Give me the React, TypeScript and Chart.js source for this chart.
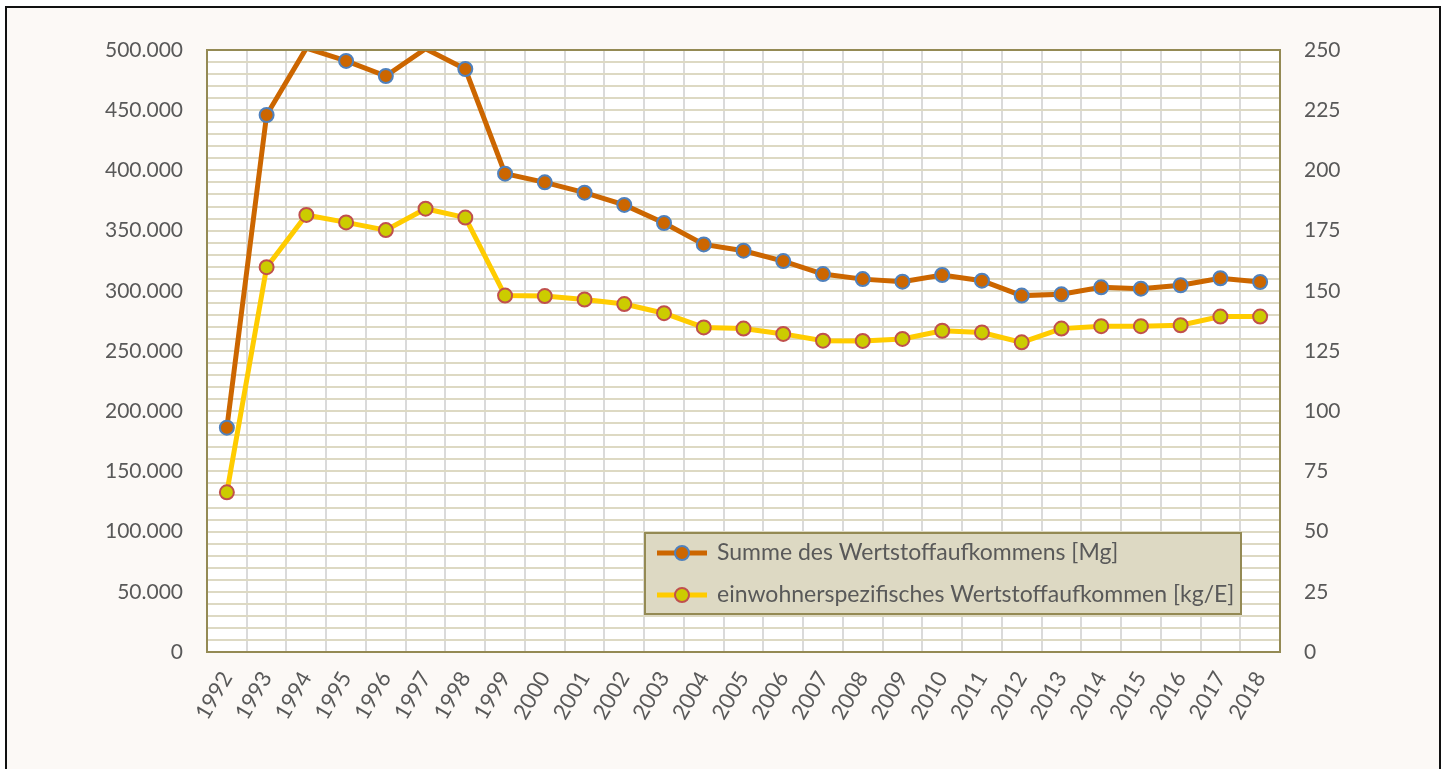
import React, { useEffect, useRef } from "react";
import { Chart, registerables } from "chart.js";

Chart.register(...registerables);

const years = [
  "1992", "1993", "1994", "1995", "1996", "1997", "1998", "1999", "2000",
  "2001", "2002", "2003", "2004", "2005", "2006", "2007", "2008", "2009",
  "2010", "2011", "2012", "2013", "2014", "2015", "2016", "2017", "2018",
];

const summeMg = [
  186300, 446000, 501500, 490900, 478400, 501000, 484200, 397300, 390100,
  381500, 371300, 356300, 338500, 333300, 324700, 313900, 309700, 307600,
  313100, 308400, 296000, 297100, 302900, 301800, 304600, 310400, 307300,
];

const kgProE = [
  66.3, 159.8, 181.5, 178.4, 175.2, 184.1, 180.4, 148.0, 147.8,
  146.4, 144.5, 140.7, 134.8, 134.3, 132.1, 129.3, 129.2, 130.0,
  133.4, 132.7, 128.6, 134.3, 135.3, 135.3, 135.7, 139.3, 139.3,
];

const seriesLabels = [
  "Summe des Wertstoffaufkommens [Mg]",
  "einwohnerspezifisches Wertstoffaufkommen [kg/E]",
];

const LEFT_MAX = 500000;
const RIGHT_MAX = 250;

const FONT = "Lato";
const TEXT = "#595959";

function fmtDE(v: number): string {
  const s = Math.round(v).toString();
  return s.replace(/\B(?=(\d{3})+(?!\d))/g, ".");
}

const topClipPlugin = {
  id: "topClip",
  beforeDatasetsDraw(chart: any) {
    const { ctx, chartArea: a } = chart;
    ctx.save();
    ctx.beginPath();
    ctx.rect(a.left - 30, a.top, a.right - a.left + 60, a.bottom - a.top + 30);
    ctx.clip();
  },
  afterDatasetsDraw(chart: any) {
    chart.ctx.restore();
  },
};

const plotFramePlugin = {
  id: "plotFrame",
  beforeDraw(chart: any) {
    const { ctx, chartArea: a } = chart;
    ctx.save();
    ctx.fillStyle = "#ffffff";
    ctx.fillRect(a.left, a.top, a.right - a.left, a.bottom - a.top);
    ctx.restore();
  },
  afterDraw(chart: any) {
    const { ctx, chartArea: a } = chart;
    ctx.save();
    ctx.strokeStyle = "#948a54";
    ctx.lineWidth = 2;
    ctx.strokeRect(a.left, a.top, a.right - a.left, a.bottom - a.top);
    ctx.restore();
  },
};

const legendPlugin = {
  id: "boxLegend",
  afterDraw(chart: any) {
    const { ctx } = chart;
    const x = 638, y = 525, w = 596, h = 81;
    ctx.save();
    ctx.fillStyle = "#ddd9c3";
    ctx.fillRect(x, y, w, h);
    ctx.strokeStyle = "#948a54";
    ctx.lineWidth = 2;
    ctx.strokeRect(x, y, w, h);
    const items = [
      { line: "#cc6600", fill: "#cc6600", border: "#4f81bd", cy: y + 20 },
      { line: "#ffcc00", fill: "#cccc00", border: "#c0504d", cy: y + 62 },
    ];
    items.forEach((it, i) => {
      ctx.strokeStyle = it.line;
      ctx.lineWidth = 5;
      ctx.beginPath();
      ctx.moveTo(x + 12, it.cy);
      ctx.lineTo(x + 62, it.cy);
      ctx.stroke();
      ctx.beginPath();
      ctx.arc(x + 37, it.cy, 7, 0, Math.PI * 2);
      ctx.fillStyle = it.fill;
      ctx.fill();
      ctx.lineWidth = 2;
      ctx.strokeStyle = it.border;
      ctx.stroke();
      ctx.fillStyle = TEXT;
      ctx.font = `23px ${FONT}`;
      ctx.textBaseline = "middle";
      ctx.textAlign = "left";
      ctx.fillText(seriesLabels[i], x + 72, it.cy);
    });
    ctx.restore();
  },
};

export default function App() {
  const ref = useRef<HTMLCanvasElement | null>(null);

  useEffect(() => {
    if (!ref.current) return;
    const clipArea = { left: 20, top: 0, right: 20, bottom: 20 };
    const chart = new Chart(ref.current, {
      type: "line",
      data: {
        labels: years,
        datasets: [
          {
            label: seriesLabels[0],
            data: summeMg,
            yAxisID: "y",
            borderColor: "#cc6600",
            backgroundColor: "#cc6600",
            borderWidth: 5,
            pointRadius: (c: any) => (c.raw > LEFT_MAX ? 0 : 7),
            pointBorderWidth: 2,
            pointBackgroundColor: "#cc6600",
            pointBorderColor: "#4f81bd",
            tension: 0,
            clip: clipArea,
          },
          {
            label: seriesLabels[1],
            data: kgProE,
            yAxisID: "y1",
            borderColor: "#ffcc00",
            backgroundColor: "#ffcc00",
            borderWidth: 5,
            pointRadius: (c: any) => (c.raw > RIGHT_MAX ? 0 : 7),
            pointBorderWidth: 2,
            pointBackgroundColor: "#cccc00",
            pointBorderColor: "#c0504d",
            tension: 0,
            clip: clipArea,
          },
        ],
      },
      options: {
        animation: false,
        responsive: false,
        maintainAspectRatio: false,
        layout: { padding: { top: 42, left: 0, right: 0, bottom: 0 } },
        plugins: {
          legend: { display: false },
          tooltip: { enabled: false },
        },
        scales: {
          x: {
            type: "category",
            offset: true,
            grid: {
              offset: true,
              color: "#dadada",
              lineWidth: 2,
              drawTicks: false,
            },
            border: { display: false },
            ticks: {
              color: TEXT,
              font: { family: FONT, size: 22 },
              minRotation: 60,
              maxRotation: 60,
              autoSkip: false,
              padding: 15,
            },
            afterFit(scale: any) {
              scale.height = 117;
            },
          },
          y: {
            type: "linear",
            position: "left",
            min: 0,
            max: LEFT_MAX,
            grid: { color: "#ddd9c3", lineWidth: 2, drawTicks: false },
            border: { display: false },
            ticks: {
              stepSize: 10000,
              maxTicksLimit: 100,
              autoSkip: false,
              color: TEXT,
              font: { family: FONT, size: 21 },
              padding: 24,
              callback: (v: any) => (Number(v) % 50000 === 0 ? fmtDE(Number(v)) : ""),
            },
            afterFit(scale: any) {
              scale.width = 200;
            },
          },
          y1: {
            type: "linear",
            position: "right",
            min: 0,
            max: RIGHT_MAX,
            grid: { display: false, drawTicks: false },
            border: { display: false },
            ticks: {
              stepSize: 25,
              autoSkip: false,
              color: TEXT,
              font: { family: FONT, size: 21 },
              padding: 24,
              callback: (v: any) => String(v),
            },
            afterFit(scale: any) {
              scale.width = 159;
            },
          },
        },
      },
      plugins: [topClipPlugin, plotFramePlugin, legendPlugin],
    });
    return () => chart.destroy();
  }, []);

  return (
    <div
      style={{
        position: "absolute",
        left: 5,
        top: 6,
        width: 1432,
        height: 761,
        borderTop: "2px solid #111",
        borderLeft: "2px solid #111",
        borderRight: "2px solid #111",
        background: "#fcf9f6",
        overflow: "hidden",
      }}
    >
      <canvas ref={ref} width={1432} height={761} style={{ display: "block" }} />
    </div>
  );
}
